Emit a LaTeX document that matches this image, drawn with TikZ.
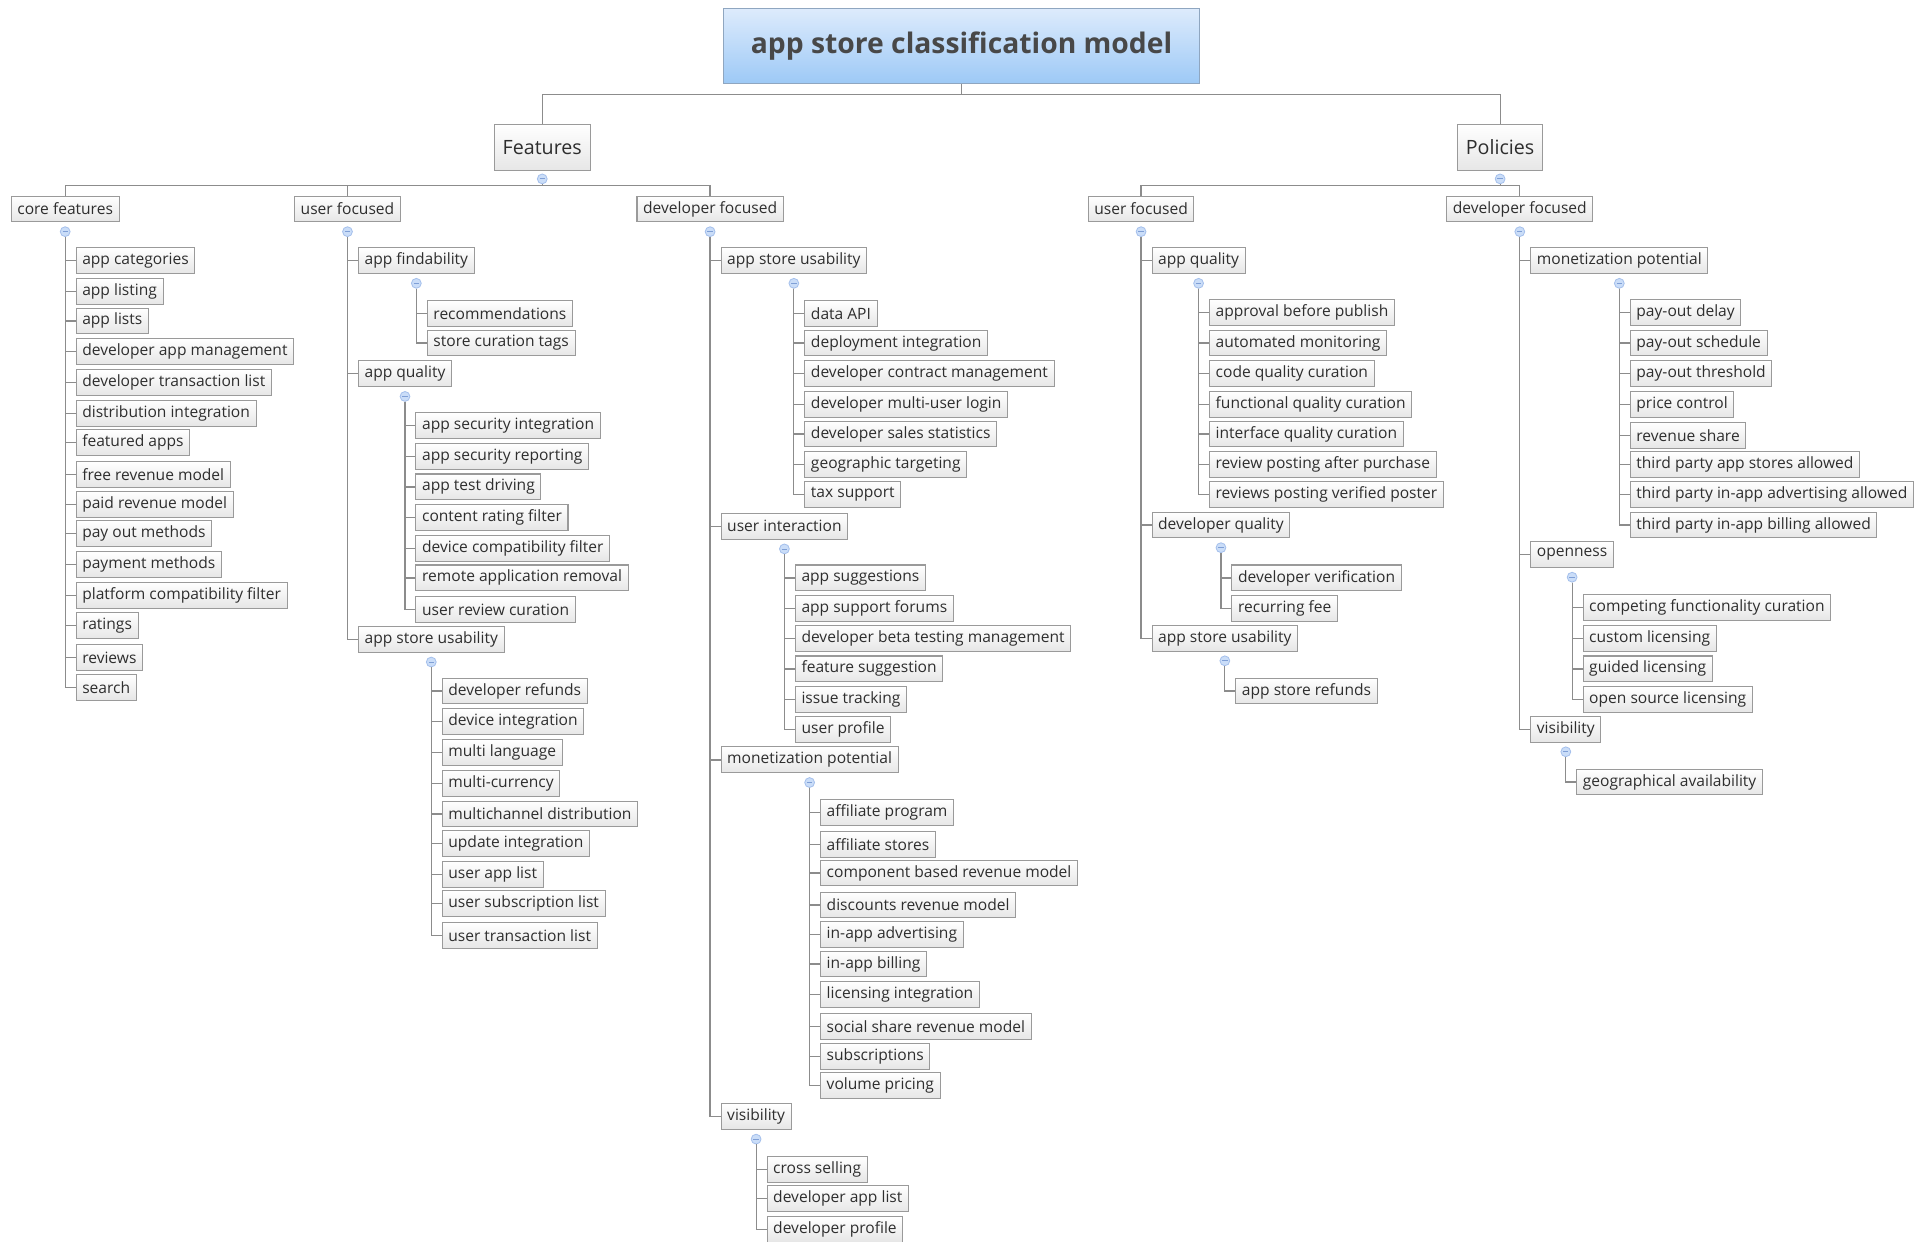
\documentclass[tikz,border=0pt]{standalone}
\usepackage{fontspec}
\setmainfont{Open Sans}
\usetikzlibrary{calc}
\definecolor{lnc}{HTML}{8C8C8C}
\definecolor{bdc}{HTML}{9A9A9A}
\definecolor{bbot}{HTML}{E6E6E6}
\definecolor{txc}{HTML}{2E2E2E}
\definecolor{ttop}{HTML}{DDEBFC}
\definecolor{tbot}{HTML}{9DC9F6}
\definecolor{tbd}{HTML}{8FA6C0}
\definecolor{ttx}{HTML}{484848}
\definecolor{cfill}{HTML}{CADDF8}
\definecolor{cbd}{HTML}{A5C0EC}
\definecolor{cmin}{HTML}{7F9FD6}
\tikzset{
 conn/.style={draw=lnc, line width=0.6pt},
 leaf/.style={draw=bdc, line width=0.5pt, top color=white, bottom color=bbot, text=txc,
   font=\fontsize{7.6}{9}\selectfont, inner xsep=3pt, inner ysep=0pt, minimum height=12.6pt, anchor=west},
 mid/.style={leaf, anchor=center},
 togc/.style={circle, draw=cbd, fill=cfill, line width=0.4pt, minimum size=4.8pt, inner sep=0pt,
   path picture={\draw[cmin, line width=0.4pt] ([xshift=-1.3pt]path picture bounding box.center) -- ([xshift=1.3pt]path picture bounding box.center);}},
}
\newcommand\tog[1]{\node[togc] (#1-c) at ($(#1.south)+(0,7.5)$) {};}
\newcommand\kid[4]{\coordinate (#1-w) at ($(#2.center |- 0,#3)+(8.5,0)$);\draw[conn] (#2-c.south) |- (#1-w);\node[leaf] (#1) at (#1-w) {#4};}
\begin{document}
\begin{tikzpicture}[x=0.6pt,y=-0.6pt]
\useasboundingbox[fill=white] (0,0) rectangle (1568,1010);
% title
\node[draw=tbd, line width=0.6pt, top color=ttop, bottom color=tbot, minimum width=232pt, minimum height=36.6pt,
  font=\fontsize{13.8}{17}\selectfont\bfseries, text=ttx] (title) at (782,37.5) {app store classification model};
\node[mid, font=\fontsize{9.6}{11}\selectfont, minimum height=22.8pt, inner xsep=4pt] (feat) at (441,120) {Features};
\node[mid, font=\fontsize{9.6}{11}\selectfont, minimum height=22.8pt, inner xsep=4pt] (pol) at (1220,120) {Policies};
\coordinate (tj) at (782,77);
\draw[conn] (title.south) -- (tj);
\draw[conn] (feat.north) |- (tj) -| (pol.north);
\node[togc] (feat-c) at (441,145.5) {};
\node[togc] (pol-c) at (1220,145.5) {};
% level 2
\coordinate (fj) at (441,151);
\coordinate (pj) at (1220,151);
\coordinate (cfn) at (53,160);
\coordinate (ufn) at (282.6,160);
\coordinate (dfn) at (577.5,160);
\coordinate (pufn) at (928,160);
\coordinate (pdfn) at (1236,160);
\draw[conn] (feat-c.south) -- (fj);
\draw[conn] (cfn) |- (fj) -| (dfn);
\draw[conn] (ufn) -- (ufn |- fj);
\draw[conn] (pol-c.south) -- (pj);
\draw[conn] (pufn) |- (pj) -| (pdfn);
\node[mid] (cf) at (53,170) {core features};
\node[mid] (uf) at (282.6,170) {user focused};
\node[mid] (df) at (577.5,170) {developer focused};
\node[mid] (puf) at (928,170) {user focused};
\node[mid] (pdf) at (1236,170) {developer focused};
\tog{cf}\tog{uf}\tog{df}\tog{puf}\tog{pdf}
% core features
\kid{cf1}{cf}{212}{app categories}
\kid{cf2}{cf}{237}{app listing}
\kid{cf3}{cf}{261}{app lists}
\kid{cf4}{cf}{286}{developer app management}
\kid{cf5}{cf}{311}{developer transaction list}
\kid{cf6}{cf}{336}{distribution integration}
\kid{cf7}{cf}{360}{featured apps}
\kid{cf8}{cf}{386}{free revenue model}
\kid{cf9}{cf}{410}{paid revenue model}
\kid{cf10}{cf}{434}{pay out methods}
\kid{cf11}{cf}{459}{payment methods}
\kid{cf12}{cf}{484}{platform compatibility filter}
\kid{cf13}{cf}{509}{ratings}
\kid{cf14}{cf}{535}{reviews}
\kid{cf15}{cf}{559}{search}
% features / user focused
\kid{ufa}{uf}{212}{app findability}\tog{ufa}
\kid{ufa1}{ufa}{255}{recommendations}
\kid{ufa2}{ufa}{279}{store curation tags}
\kid{ufb}{uf}{304}{app quality}\tog{ufb}
\kid{ufb1}{ufb}{346}{app security integration}
\kid{ufb2}{ufb}{371}{app security reporting}
\kid{ufb3}{ufb}{396}{app test driving}
\kid{ufb4}{ufb}{421}{content rating filter}
\kid{ufb5}{ufb}{446}{device compatibility filter}
\kid{ufb6}{ufb}{470}{remote application removal}
\kid{ufb7}{ufb}{496}{user review curation}
\kid{ufc}{uf}{520}{app store usability}\tog{ufc}
\kid{ufc1}{ufc}{562}{developer refunds}
\kid{ufc2}{ufc}{587}{device integration}
\kid{ufc3}{ufc}{612}{multi language}
\kid{ufc4}{ufc}{637}{multi-currency}
\kid{ufc5}{ufc}{662}{multichannel distribution}
\kid{ufc6}{ufc}{686}{update integration}
\kid{ufc7}{ufc}{711}{user app list}
\kid{ufc8}{ufc}{735}{user subscription list}
\kid{ufc9}{ufc}{761}{user transaction list}
% features / developer focused
\kid{dfa}{df}{212}{app store usability}\tog{dfa}
\kid{dfa1}{dfa}{255}{data API}
\kid{dfa2}{dfa}{279}{deployment integration}
\kid{dfa3}{dfa}{304}{developer contract management}
\kid{dfa4}{dfa}{329}{developer multi-user login}
\kid{dfa5}{dfa}{353}{developer sales statistics}
\kid{dfa6}{dfa}{378}{geographic targeting}
\kid{dfa7}{dfa}{402}{tax support}
\kid{dfb}{df}{428}{user interaction}\tog{dfb}
\kid{dfb1}{dfb}{470}{app suggestions}
\kid{dfb2}{dfb}{495}{app support forums}
\kid{dfb3}{dfb}{519}{developer beta testing management}
\kid{dfb4}{dfb}{544}{feature suggestion}
\kid{dfb5}{dfb}{569}{issue tracking}
\kid{dfb6}{dfb}{593}{user profile}
\kid{dfc}{df}{618}{monetization potential}\tog{dfc}
\kid{dfc1}{dfc}{661}{affiliate program}
\kid{dfc2}{dfc}{687}{affiliate stores}
\kid{dfc3}{dfc}{710}{component based revenue model}
\kid{dfc4}{dfc}{736}{discounts revenue model}
\kid{dfc5}{dfc}{760}{in-app advertising}
\kid{dfc6}{dfc}{784}{in-app billing}
\kid{dfc7}{dfc}{809}{licensing integration}
\kid{dfc8}{dfc}{835}{social share revenue model}
\kid{dfc9}{dfc}{859}{subscriptions}
\kid{dfc10}{dfc}{883}{volume pricing}
\kid{dfd}{df}{908}{visibility}\tog{dfd}
\kid{dfd1}{dfd}{951}{cross selling}
\kid{dfd2}{dfd}{975}{developer app list}
\kid{dfd3}{dfd}{1000}{developer profile}
% policies / user focused
\kid{pua}{puf}{212}{app quality}\tog{pua}
\kid{pua1}{pua}{254}{approval before publish}
\kid{pua2}{pua}{279}{automated monitoring}
\kid{pua3}{pua}{304}{code quality curation}
\kid{pua4}{pua}{329}{functional quality curation}
\kid{pua5}{pua}{353}{interface quality curation}
\kid{pua6}{pua}{378}{review posting after purchase}
\kid{pua7}{pua}{402}{reviews posting verified poster}
\kid{pub}{puf}{427}{developer quality}\tog{pub}
\kid{pub1}{pub}{470}{developer verification}
\kid{pub2}{pub}{495}{recurring fee}
\kid{puc}{puf}{519}{app store usability}\tog{puc}
\kid{puc1}{puc}{562}{app store refunds}
% policies / developer focused
\kid{pda}{pdf}{212}{monetization potential}\tog{pda}
\kid{pda1}{pda}{254}{pay-out delay}
\kid{pda2}{pda}{279}{pay-out schedule}
\kid{pda3}{pda}{304}{pay-out threshold}
\kid{pda4}{pda}{329}{price control}
\kid{pda5}{pda}{354}{revenue share}
\kid{pda6}{pda}{378}{third party app stores allowed}
\kid{pda7}{pda}{402}{third party in-app advertising allowed}
\kid{pda8}{pda}{427}{third party in-app billing allowed}
\kid{pdb}{pdf}{451}{openness}\tog{pdb}
\kid{pdb1}{pdb}{494}{competing functionality curation}
\kid{pdb2}{pdb}{519}{custom licensing}
\kid{pdb3}{pdb}{544}{guided licensing}
\kid{pdb4}{pdb}{569}{open source licensing}
\kid{pdc}{pdf}{593}{visibility}\tog{pdc}
\kid{pdc1}{pdc}{636}{geographical availability}
\end{tikzpicture}
\end{document}
